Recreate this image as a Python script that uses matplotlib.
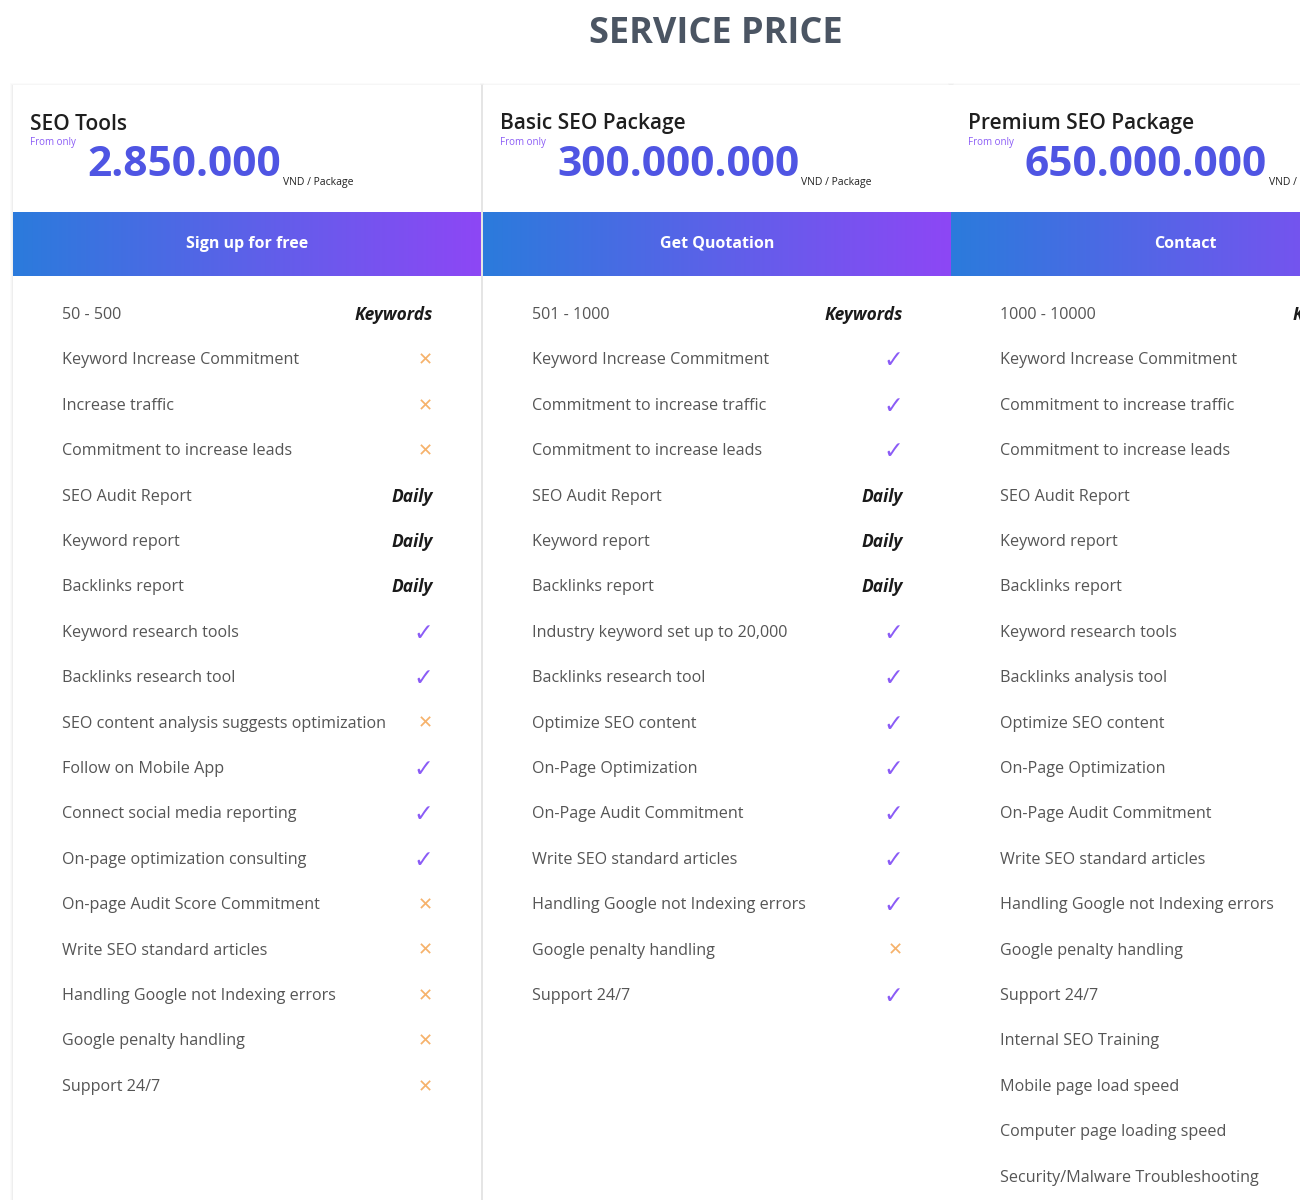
import numpy as np
import matplotlib.pyplot as plt
from matplotlib.colors import LinearSegmentedColormap
from matplotlib.patches import Rectangle

plt.rcParams['font.family'] = ['Open Sans', 'DejaVu Sans']

# === DATA ===
plan_names = ["SEO Tools", "Basic SEO Package", "Premium SEO Package"]
plan_prices = ["2.850.000", "300.000.000", "650.000.000"]
plan_buttons = ["Sign up for free", "Get Quotation", "Contact"]
plan_keywords = ["50 - 500", "501 - 1000", "1000 - 10000"]

features_1 = ["Keyword Increase Commitment", "Increase traffic", "Commitment to increase leads",
              "SEO Audit Report", "Keyword report", "Backlinks report", "Keyword research tools",
              "Backlinks research tool", "SEO content analysis suggests optimization",
              "Follow on Mobile App", "Connect social media reporting", "On-page optimization consulting",
              "On-page Audit Score Commitment", "Write SEO standard articles",
              "Handling Google not Indexing errors", "Google penalty handling", "Support 24/7"]
marks_1 = ["x", "x", "x", "Daily", "Daily", "Daily", "v", "v", "x", "v", "v", "v",
           "x", "x", "x", "x", "x"]

features_2 = ["Keyword Increase Commitment", "Commitment to increase traffic",
              "Commitment to increase leads", "SEO Audit Report", "Keyword report", "Backlinks report",
              "Industry keyword set up to 20,000", "Backlinks research tool", "Optimize SEO content",
              "On-Page Optimization", "On-Page Audit Commitment", "Write SEO standard articles",
              "Handling Google not Indexing errors", "Google penalty handling", "Support 24/7"]
marks_2 = ["v", "v", "v", "Daily", "Daily", "Daily", "v", "v", "v", "v", "v", "v", "v", "x", "v"]

features_3 = ["Keyword Increase Commitment", "Commitment to increase traffic",
              "Commitment to increase leads", "SEO Audit Report", "Keyword report", "Backlinks report",
              "Keyword research tools", "Backlinks analysis tool", "Optimize SEO content",
              "On-Page Optimization", "On-Page Audit Commitment", "Write SEO standard articles",
              "Handling Google not Indexing errors", "Google penalty handling", "Support 24/7",
              "Internal SEO Training", "Mobile page load speed", "Computer page loading speed",
              "Security/Malware Troubleshooting"]
marks_3 = [""] * len(features_3)

features = [features_1, features_2, features_3]
marks = [marks_1, marks_2, marks_3]

# === LAYOUT ===
card_left = [13, 483, 951]
card_width = 468
row_step = 45.4
purple = "#8b5cf6"
orange = "#f6b26b"

fig = plt.figure(figsize=(13, 12), dpi=100)
ax = fig.add_axes([0, 0, 1, 1])
ax.set_xlim(0, 1300)
ax.set_ylim(1200, 0)
ax.axis("off")

ax.text(716, 34, "SERVICE PRICE", ha="center", va="center", fontsize=26,
        fontweight="bold", color="#4b5563")

grad = LinearSegmentedColormap.from_list("btn", ["#2b7bdc", "#8d47f5"])
renderer = fig.canvas.get_renderer()

for i, x0 in enumerate(card_left):
    # card with soft shadow
    for k, a in enumerate([0.015, 0.02, 0.03]):
        ax.add_patch(Rectangle((x0 - 3 + k, 85 - 2 + k), card_width + 6 - 2 * k, 1200,
                               facecolor="#000000", alpha=a, edgecolor="none", zorder=1))
    ax.add_patch(Rectangle((x0, 85), card_width, 1200, facecolor="white",
                           edgecolor="none", zorder=2))

    ax.text(x0 + 17, 124, plan_names[i], fontsize=15, fontweight="semibold",
            color="#1f1f1f", va="center", zorder=3)
    ax.text(x0 + 17, 143, "From only", fontsize=7, color=purple, va="center", zorder=3)
    price = ax.text(x0 + 74, 166, plan_prices[i], fontsize=30.5, fontweight="bold",
                    color="#4f55e3", va="center", zorder=3, clip_on=True)
    bb = price.get_window_extent(renderer).transformed(ax.transData.inverted())
    ax.text(bb.x1 + 2, 182, "VND / Package", fontsize=7.5, color="#222222",
            va="center", zorder=3, clip_on=True)

    # button gradient band
    ax.imshow(np.linspace(0, 1, 256).reshape(1, -1), cmap=grad, aspect="auto",
              extent=(x0, x0 + card_width, 276, 212), zorder=3)
    ax.text(x0 + card_width / 2, 244, plan_buttons[i], ha="center", va="center",
            fontsize=11.5, fontweight="bold", color="white", zorder=4)

    # keyword row
    tx = x0 + 49
    mx = x0 + 420
    ax.text(tx, 315, plan_keywords[i], fontsize=11.6, color="#555555", va="center", zorder=3)
    ax.text(mx, 315, "Keywords", fontsize=12.5, fontweight="bold", style="italic",
            color="#1a1a1a", va="center", ha="right", zorder=3, clip_on=True)

    for j, (name, m) in enumerate(zip(features[i], marks[i])):
        y = 315 + row_step * (j + 1)
        ax.text(tx, y, name, fontsize=11.6, color="#555555", va="center", zorder=3)
        if m == "v":
            ax.text(mx - 10, y, "\u2713", fontsize=17, color=purple, ha="center",
                    va="center", zorder=3, family="DejaVu Sans")
        elif m == "x":
            ax.text(mx - 8, y, "\u2715", fontsize=13, color=orange, ha="center",
                    va="center", zorder=3, family="DejaVu Sans")
        elif m:
            ax.text(mx, y, m, fontsize=12.5, fontweight="bold", style="italic",
                    color="#1a1a1a", va="center", ha="right", zorder=3)

fig.savefig("out.png", dpi=100, facecolor="white")
